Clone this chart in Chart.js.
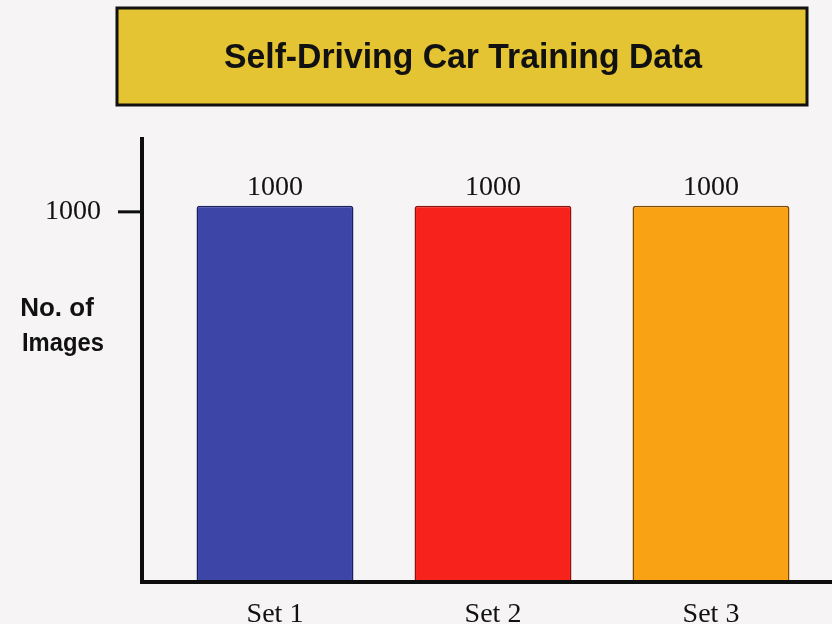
<!DOCTYPE html>
<html>
<head>
<meta charset="utf-8">
<script src="https://cdn.jsdelivr.net/npm/chart.js@4.4.1/dist/chart.umd.min.js"></script>
<style>
  html, body { margin: 0; padding: 0; background: #f6f4f5; }
  #wrap { width: 832px; height: 624px; }
</style>
</head>
<body>
<div id="wrap"><canvas id="chart" width="832" height="624"></canvas></div>
<script>
const categories = ['Set 1', 'Set 2', 'Set 3'];
const imageCounts = [1000, 1000, 1000];
const yTicks = [1000];
const barColors = ['#3d46a6', '#f8221d', '#f9a214'];
const barBorders = ['#1b2063', '#8c1410', '#7d4c05'];

const titleText = 'Self-Driving Car Training Data';
const yTitleLines = ['No. of', 'Images'];

const serif = '"Liberation Serif", "Times New Roman", serif';

// title box, y axis caption, axis lines, tick and value labels
const decorations = {
  id: 'decorations',
  beforeDraw(chart) {
    const { ctx } = chart;
    ctx.save();
    ctx.fillStyle = '#e4c432';
    ctx.fillRect(117, 8, 690, 97);
    ctx.lineWidth = 3;
    ctx.strokeStyle = '#111';
    ctx.strokeRect(117, 8, 690, 97);
    ctx.fillStyle = '#111';
    ctx.font = 'bold 35px "Liberation Sans", Arial, sans-serif';
    ctx.textAlign = 'center';
    ctx.textBaseline = 'middle';
    ctx.fillText(titleText, 463, 58, 478);
    ctx.restore();
  },
  afterDraw(chart) {
    const { ctx } = chart;
    const y = chart.scales.y;
    ctx.save();
    ctx.strokeStyle = '#0d0d0d';
    ctx.lineWidth = 4;
    ctx.beginPath();
    ctx.moveTo(142, 137);
    ctx.lineTo(142, 582);
    ctx.lineTo(832, 582);
    ctx.stroke();

    ctx.fillStyle = '#111';
    ctx.lineWidth = 3;
    ctx.font = '28px ' + serif;
    ctx.textAlign = 'right';
    ctx.textBaseline = 'middle';
    yTicks.forEach(v => {
      const py = y.getPixelForValue(v) + 6;
      ctx.beginPath();
      ctx.moveTo(118, py);
      ctx.lineTo(142, py);
      ctx.stroke();
      ctx.fillText(String(v), 101, py);
    });

    ctx.font = 'bold 26px "Liberation Sans", Arial, sans-serif';
    ctx.textAlign = 'center';
    ctx.fillText(yTitleLines[0], 57, 309, 82);
    ctx.fillText(yTitleLines[1], 63, 344, 82);

    ctx.font = '28px ' + serif;
    ctx.textBaseline = 'alphabetic';
    const meta = chart.getDatasetMeta(0);
    meta.data.forEach((bar, i) => {
      ctx.fillText(String(imageCounts[i]), bar.x, bar.y - 11);
    });
    ctx.restore();
  }
};

new Chart(document.getElementById('chart'), {
  type: 'bar',
  data: {
    labels: categories,
    datasets: [{
      label: 'No. of Images',
      data: imageCounts,
      backgroundColor: barColors,
      borderColor: barBorders,
      borderWidth: 1.5,
      borderRadius: 3,
      borderSkipped: 'bottom',
      barPercentage: 0.72,
      categoryPercentage: 1
    }]
  },
  options: {
    responsive: false,
    animation: false,
    layout: { padding: { top: 137, right: 12, bottom: 0, left: 0 } },
    plugins: {
      legend: { display: false },
      title: { display: false },
      tooltip: { enabled: false }
    },
    scales: {
      x: {
        grid: { display: false },
        border: { display: false },
        ticks: {
          color: '#111',
          padding: 10,
          font: { family: serif, size: 28 }
        },
        afterFit(scale) { scale.height = 44; }
      },
      y: {
        min: 0,
        max: 1184,
        grid: { display: false },
        border: { display: false },
        afterBuildTicks(scale) { scale.ticks = yTicks.map(v => ({ value: v })); },
        ticks: { display: false, padding: 0 },
        afterFit(scale) { scale.width = 166; }
      }
    }
  },
  plugins: [decorations]
});
</script>
</body>
</html>
